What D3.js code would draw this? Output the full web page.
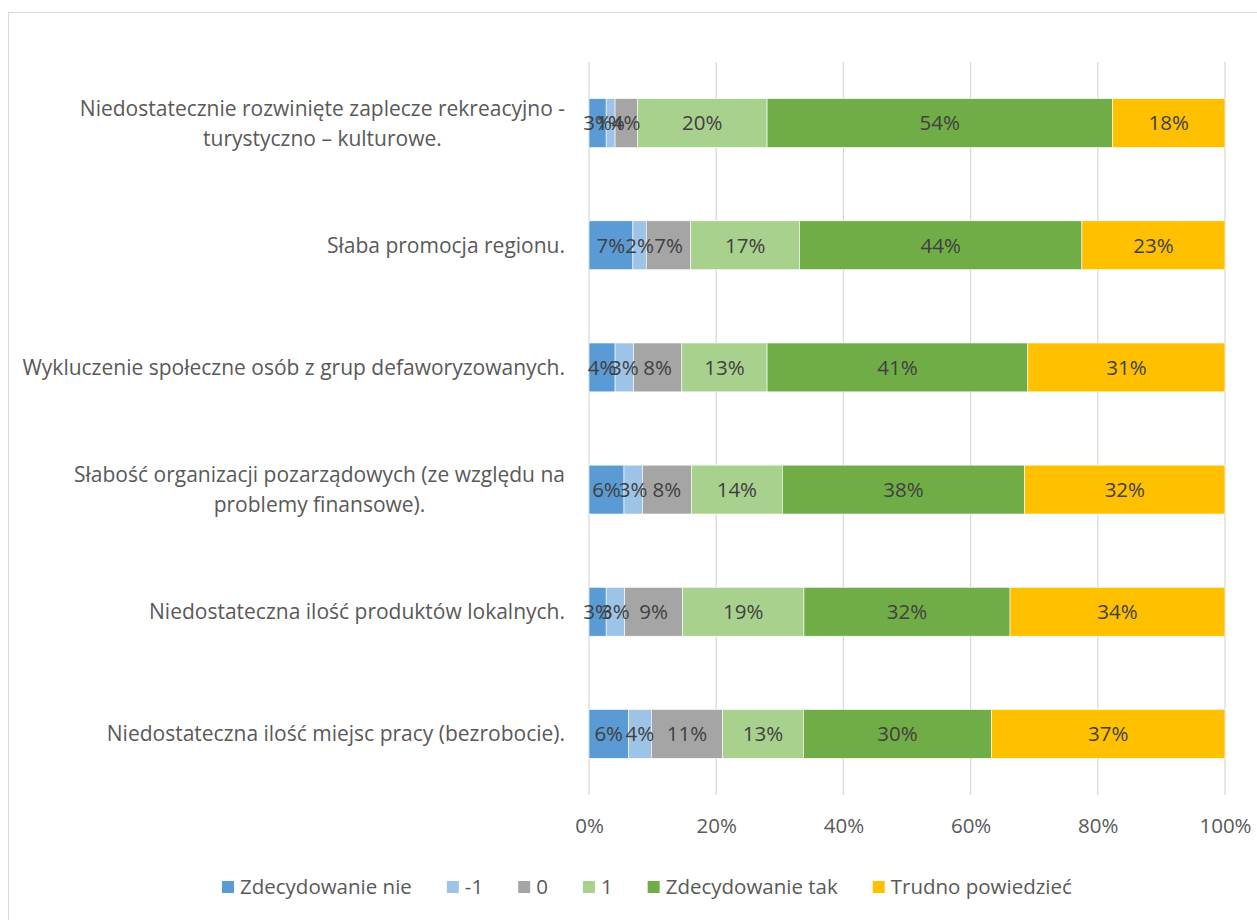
<!DOCTYPE html>
<html>
<head>
<meta charset="utf-8">
<script src="https://cdn.jsdelivr.net/npm/d3@7"></script>
<style>
  html, body { margin: 0; padding: 0; background: #fff; }
  svg { display: block; }
  text { font-family: "Open Sans", Lato, sans-serif; }
</style>
</head>
<body>
<svg id="chart" width="1257" height="920"></svg>
<script>
// ---- data ----
const categories = [
  ["Niedostatecznie rozwinięte zaplecze rekreacyjno -", "turystyczno – kulturowe."],
  ["Słaba promocja regionu."],
  ["Wykluczenie społeczne osób z grup defaworyzowanych."],
  ["Słabość organizacji pozarządowych (ze względu na", "problemy finansowe)."],
  ["Niedostateczna ilość produktów lokalnych."],
  ["Niedostateczna ilość miejsc pracy (bezrobocie)."]
];
const seriesNames = ["Zdecydowanie nie", "-1", "0", "1", "Zdecydowanie tak", "Trudno powiedzieć"];
const seriesColors = ["#5b9bd5", "#9dc3e6", "#a5a5a5", "#a9d18e", "#70ad47", "#ffc000"];
const zdecydowanieNie = [2.7, 6.9, 4.1, 5.5, 2.7, 6.2];
const minusOne        = [1.4, 2.1, 2.9, 2.9, 2.9, 3.6];
const zero            = [3.5, 7.0, 7.6, 7.7, 9.1, 11.2];
const plusOne         = [20.4, 17.1, 13.4, 14.3, 19.1, 12.7];
const zdecydowanieTak = [54.3, 44.4, 41.0, 38.1, 32.4, 29.6];
const trudnoPowiedziec= [17.7, 22.5, 31.0, 31.5, 33.8, 36.7];
const tickLabels = ["0%", "20%", "40%", "60%", "80%", "100%"];
const tickValues = [0, 20, 40, 60, 80, 100];

const seriesData = [zdecydowanieNie, minusOne, zero, plusOne, zdecydowanieTak, trudnoPowiedziec];

// ---- layout ----
const svg = d3.select("#chart");
const plot = { left: 589, right: 1225, top: 62, bottom: 795 };
const labelColor = "#595959";
const fs = "20.5px";
const catFs = "21px";

svg.append("rect")
  .attr("x", 8.5).attr("y", 12.5)
  .attr("width", 1270).attr("height", 940)
  .attr("fill", "#fff").attr("stroke", "#d9d9d9").attr("stroke-width", 1);

const x = d3.scaleLinear().domain([0, 100]).range([plot.left, plot.right]);
const y = d3.scaleBand().domain(d3.range(categories.length))
  .range([plot.top, plot.bottom]).paddingInner(0.6).paddingOuter(0.3);

// gridlines
svg.append("g").selectAll("line").data(tickValues).join("line")
  .attr("x1", d => x(d)).attr("x2", d => x(d))
  .attr("y1", plot.top).attr("y2", plot.bottom)
  .attr("stroke", "#d9d9d9").attr("stroke-width", 1.3);

// axis tick labels
const xAxis = d3.axisBottom(x).tickValues(tickValues)
  .tickFormat((d, i) => tickLabels[i]).tickSize(0).tickPadding(0);
const axG = svg.append("g").attr("transform", `translate(0,${plot.bottom + 23})`).call(xAxis);
axG.select(".domain").remove();
axG.selectAll("text").attr("fill", labelColor).attr("font-size", fs)
  .attr("font-family", "'Open Sans', sans-serif").attr("dy", "0.75em");

// stacked data
const rows = categories.map((c, i) => {
  const obj = { idx: i };
  seriesNames.forEach((s, j) => obj[s] = seriesData[j][i]);
  return obj;
});
const stack = d3.stack().keys(seriesNames)(rows);

const layers = svg.append("g").selectAll("g").data(stack).join("g")
  .attr("fill", (d, i) => seriesColors[i]);
layers.selectAll("rect").data(d => d).join("rect")
  .attr("x", d => x(d[0]))
  .attr("y", d => y(d.data.idx))
  .attr("width", d => x(d[1]) - x(d[0]))
  .attr("height", y.bandwidth())
  .attr("stroke", "#fff").attr("stroke-width", 0.6);

// data labels
const lblG = svg.append("g");
stack.forEach((layer) => {
  layer.forEach(d => {
    lblG.append("text")
      .attr("x", (x(d[0]) + x(d[1])) / 2)
      .attr("y", y(d.data.idx) + y.bandwidth() / 2)
      .attr("dy", "0.36em")
      .attr("text-anchor", "middle")
      .attr("font-size", fs)
      .attr("fill", "#404040")
      .text(Math.round(d[1] - d[0]) + "%");
  });
});

// category labels
const catRight = 565;
const lineH = 30;
categories.forEach((lines, i) => {
  const cy = y(i) + y.bandwidth() / 2;
  const g = svg.append("g");
  const texts = lines.map((ln, k) => g.append("text")
    .attr("font-size", catFs).attr("fill", labelColor)
    .attr("text-anchor", "middle")
    .attr("y", cy + (k - (lines.length - 1) / 2) * lineH)
    .attr("dy", "0.36em")
    .text(ln));
  const maxW = d3.max(texts, t => t.node().getComputedTextLength());
  texts.forEach(t => t.attr("x", catRight - maxW / 2));
});

// legend
const legendY = 887;
const legend = svg.append("g");
let lx = 224;
seriesNames.forEach((s, i) => {
  legend.append("rect").attr("x", lx).attr("y", legendY - 6)
    .attr("width", 12).attr("height", 12).attr("fill", seriesColors[i]);
  const t = legend.append("text").attr("x", lx + 18).attr("y", legendY)
    .attr("dy", "0.36em").attr("font-size", fs).attr("fill", labelColor).text(s);
  lx += 18 + t.node().getComputedTextLength() + 35;
});
// center legend
const lb = legend.node().getBBox();
legend.attr("transform", `translate(${(224 + 1070) / 2 - (lb.x + lb.width / 2)},0)`);
</script>
</body>
</html>
